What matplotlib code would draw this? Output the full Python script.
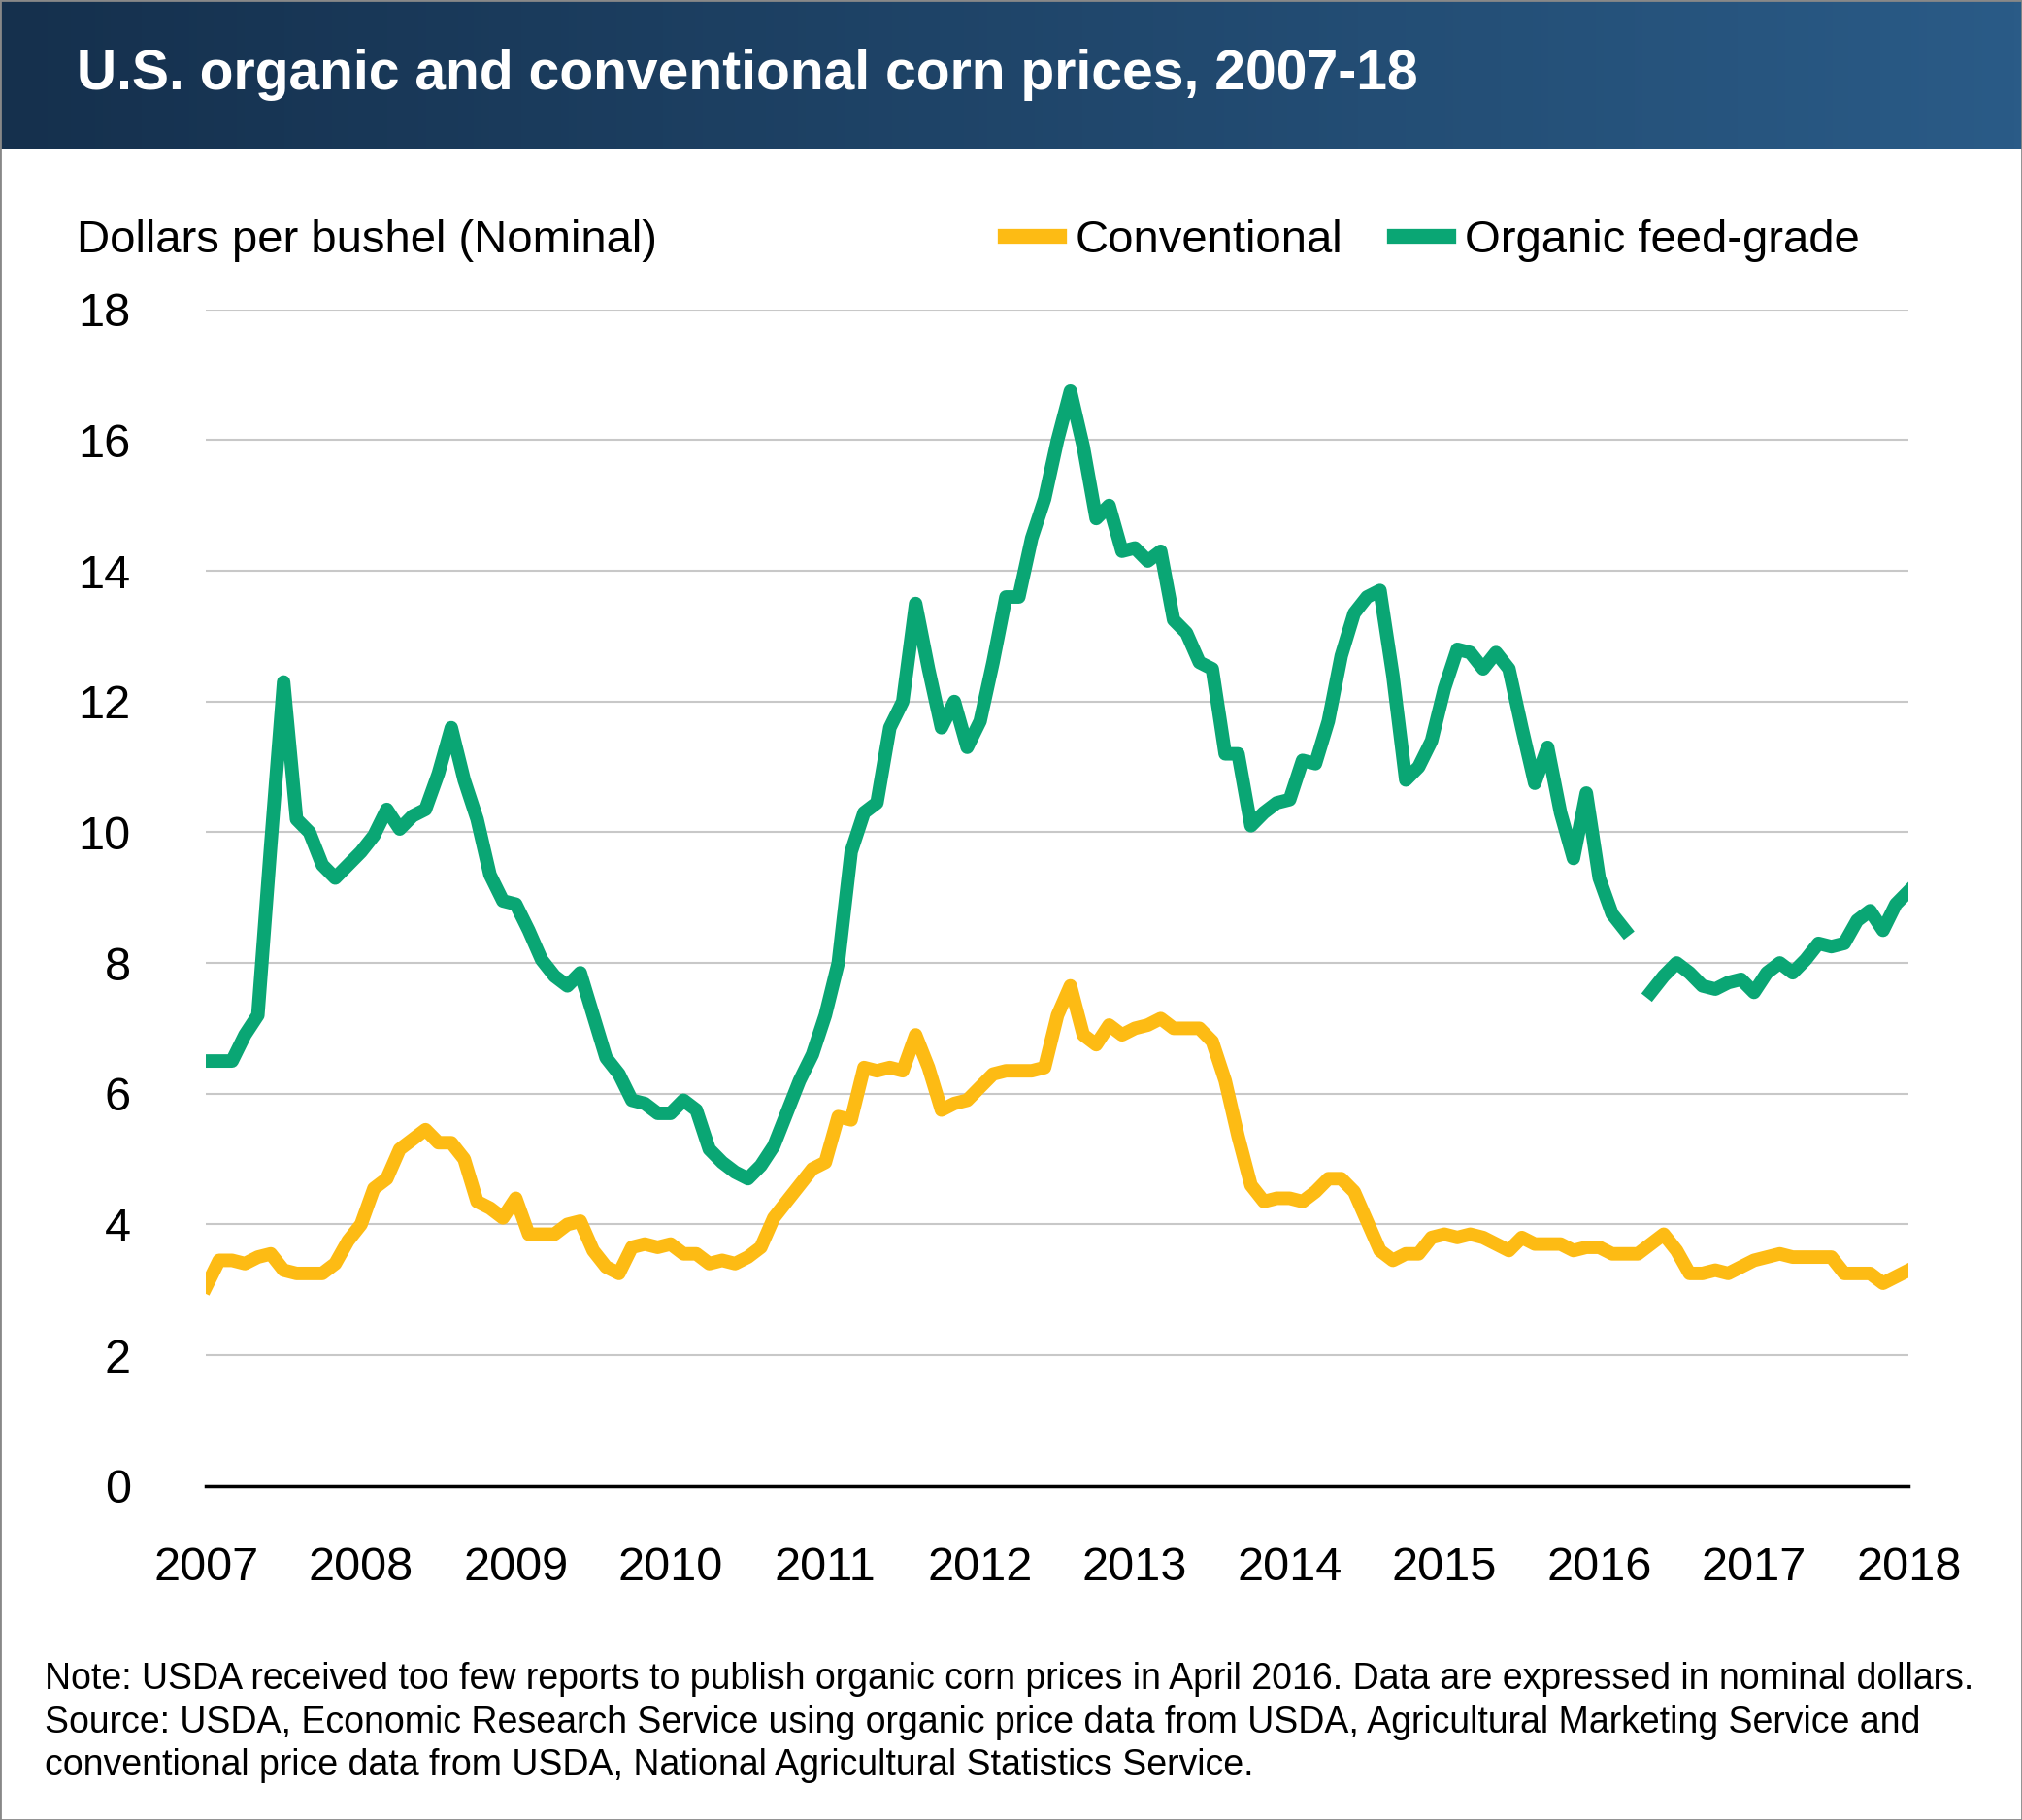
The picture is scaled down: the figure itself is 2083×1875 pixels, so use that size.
import numpy as np
import matplotlib
matplotlib.use("Agg")
from matplotlib import pyplot as plt
from matplotlib.lines import Line2D

plt.rcParams['font.family'] = ['Liberation Sans', 'DejaVu Sans']

# monthly values, Jan 2007 .. Jan 2018
organic = [
    6.5, 6.5, 6.5, 6.9, 7.2, 9.8, 12.3, 10.2, 10.0, 9.5, 9.3, 9.5,
    9.7, 9.95, 10.35, 10.05, 10.25, 10.35, 10.9, 11.6, 10.8, 10.2, 9.35, 8.95,
    8.9, 8.5, 8.05, 7.8, 7.65, 7.85, 7.2, 6.55, 6.3, 5.9, 5.85, 5.7,
    5.7, 5.9, 5.75, 5.15, 4.95, 4.8, 4.7, 4.9, 5.2, 5.7, 6.2, 6.6,
    7.2, 8.0, 9.7, 10.3, 10.45, 11.6, 12.0, 13.5, 12.5, 11.6, 12.0, 11.3,
    11.7, 12.6, 13.6, 13.6, 14.5, 15.1, 16.0, 16.75, 15.9, 14.8, 15.0, 14.3,
    14.35, 14.15, 14.3, 13.25, 13.05, 12.6, 12.5, 11.2, 11.2, 10.1, 10.3, 10.45,
    10.5, 11.1, 11.05, 11.7, 12.7, 13.35, 13.6, 13.7, 12.4, 10.8, 11.0, 11.4,
    12.2, 12.8, 12.75, 12.5, 12.75, 12.5, 11.6, 10.75, 11.3, 10.3, 9.6, 10.6,
    9.3, 8.75, 8.5, np.nan, 7.55, 7.8, 8.0, 7.85, 7.65, 7.6, 7.7, 7.75,
    7.55, 7.85, 8.0, 7.85, 8.05, 8.3, 8.25, 8.3, 8.65, 8.8, 8.5, 8.9,
    9.1]
conventional = [
    3.05, 3.45, 3.45, 3.4, 3.5, 3.55, 3.3, 3.25, 3.25, 3.25, 3.4, 3.75,
    4.0, 4.55, 4.7, 5.15, 5.3, 5.45, 5.25, 5.25, 5.0, 4.35, 4.25, 4.1,
    4.4, 3.85, 3.85, 3.85, 4.0, 4.05, 3.6, 3.35, 3.25, 3.65, 3.7, 3.65,
    3.7, 3.55, 3.55, 3.4, 3.45, 3.4, 3.5, 3.65, 4.1, 4.35, 4.6, 4.85,
    4.95, 5.65, 5.6, 6.4, 6.35, 6.4, 6.35, 6.9, 6.4, 5.75, 5.85, 5.9,
    6.1, 6.3, 6.35, 6.35, 6.35, 6.4, 7.2, 7.65, 6.9, 6.75, 7.05, 6.9,
    7.0, 7.05, 7.15, 7.0, 7.0, 7.0, 6.8, 6.2, 5.35, 4.6, 4.35, 4.4,
    4.4, 4.35, 4.5, 4.7, 4.7, 4.5, 4.05, 3.6, 3.45, 3.55, 3.55, 3.8,
    3.85, 3.8, 3.85, 3.8, 3.7, 3.6, 3.8, 3.7, 3.7, 3.7, 3.6, 3.65,
    3.65, 3.55, 3.55, 3.55, 3.7, 3.85, 3.6, 3.25, 3.25, 3.3, 3.25, 3.35,
    3.45, 3.5, 3.55, 3.5, 3.5, 3.5, 3.5, 3.25, 3.25, 3.25, 3.1, 3.2,
    3.3]
years = list(range(2007, 2019))

x = 2007 + np.arange(len(organic)) / 12.0
GREEN = '#0aa674'
YELLOW = '#fdbb14'

fig = plt.figure(figsize=(20.83, 18.75), dpi=100)

# header band with gradient
hdr = fig.add_axes([0, 0.918, 1, 0.082])
grad = np.linspace(0, 1, 256).reshape(1, -1)
cmap = matplotlib.colors.LinearSegmentedColormap.from_list('h', ['#15304d', '#2a5b87'])
hdr.imshow(grad, aspect='auto', cmap=cmap, extent=[0, 1, 0, 1])
hdr.set_axis_off()
hdr.text(0.038, 0.5, 'U.S. organic and conventional corn prices, 2007-18',
         color='white', fontsize=41, fontweight='bold', va='center')

ax = fig.add_axes([0.102, 0.1836, 0.842, 0.6464])
ax.plot(x, organic, color=GREEN, lw=10, solid_joinstyle='round')
ax.plot(x, conventional, color=YELLOW, lw=10, solid_joinstyle='round')
ax.set_xlim(2007, 2018)
ax.set_ylim(0, 18)
ax.set_yticks(range(0, 19, 2))
ax.set_xticks(years)
ax.grid(axis='y', color='#c8c8c8', lw=1.5)
ax.set_axisbelow(True)
for s in ['top', 'right', 'left']:
    ax.spines[s].set_visible(False)
ax.spines['bottom'].set_linewidth(2.5)
ax.tick_params(length=0, labelsize=35)
ax.tick_params(axis='y', pad=56)
for lab in ax.get_yticklabels():
    lab.set_horizontalalignment('right')
ax.tick_params(axis='x', pad=45)

fig.text(0.038, 0.868, 'Dollars per bushel (Nominal)', fontsize=34, va='center')
handles = [Line2D([], [], color=YELLOW, lw=11), Line2D([], [], color=GREEN, lw=11)]
fig.legend(handles, ['Conventional', 'Organic feed-grade'], loc='center right',
           bbox_to_anchor=(0.94, 0.868), ncol=2, frameon=False, fontsize=34,
           handlelength=1.2, handletextpad=0.35, columnspacing=1.1)

note = ('Note: USDA received too few reports to publish organic corn prices in April 2016. Data are expressed in nominal dollars.\n'
        'Source: USDA, Economic Research Service using organic price data from USDA, Agricultural Marketing Service and\n'
        'conventional price data from USDA, National Agricultural Statistics Service.')
fig.text(0.022, 0.0535, note, fontsize=27, va='center', linespacing=1.3)

fig.add_artist(plt.Rectangle((0, 0), 1, 1, transform=fig.transFigure,
                             fill=False, ec='#888888', lw=2))

fig.savefig('out.png', dpi=100)
